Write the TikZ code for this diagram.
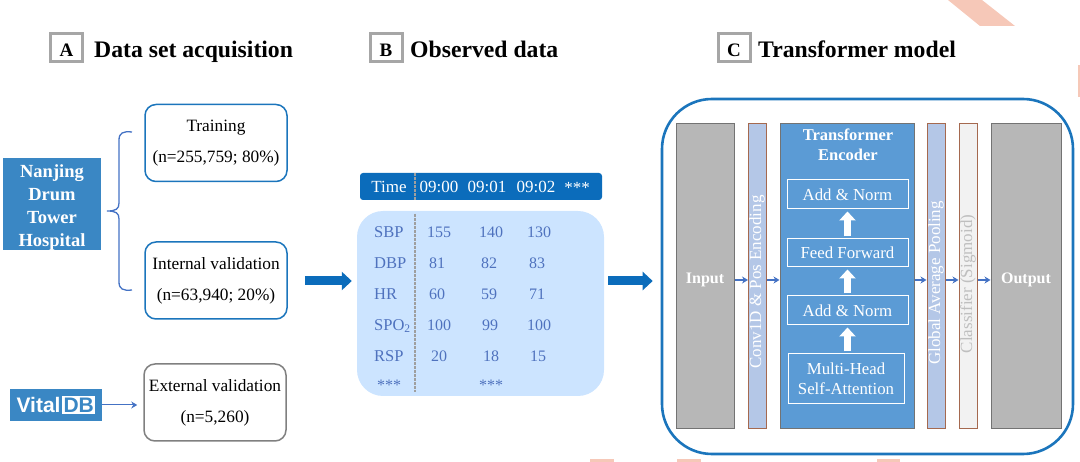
\documentclass[tikz,border=0pt]{standalone}
\usepackage{fontspec}
\setmainfont{Liberation Serif}
\newfontfamily\logofont{Liberation Sans}
\usetikzlibrary{arrows.meta}
\definecolor{hospblue}{HTML}{3A87C4}
\definecolor{deepblue}{HTML}{0B6CBB}
\definecolor{ringblue}{HTML}{1B75BC}
\definecolor{paleblue}{HTML}{CCE4FF}
\definecolor{linkblue}{HTML}{4472C4}
\definecolor{cellblue}{HTML}{4F72BE}
\definecolor{encblue}{HTML}{5B9BD5}
\definecolor{layerblue}{HTML}{B4C7E7}
\definecolor{layerbrown}{HTML}{A5694F}
\definecolor{iogray}{HTML}{B7B7B7}
\definecolor{salmon}{HTML}{F6C8B8}
\tikzset{
  letterbox/.style={draw=gray!70,line width=3pt,minimum width=32pt,minimum height=28pt,inner sep=0pt,font=\fontsize{19}{22}\selectfont\bfseries},
  headtitle/.style={anchor=base west,inner sep=0pt,font=\fontsize{23.7}{26}\selectfont\bfseries},
  splitbox/.style={draw=ringblue,line width=1.5pt,rounded corners=11pt,minimum width=142pt,minimum height=77pt,inner sep=0pt,align=center,font=\fontsize{17.3}{31}\selectfont},
  cellname/.style={anchor=west,inner sep=0pt,text=cellblue,font=\fontsize{16.5}{18}\selectfont},
  cellval/.style={inner sep=0pt,text=cellblue,font=\fontsize{16}{18}\selectfont},
  timeval/.style={inner sep=0pt,text=white,font=\fontsize{17}{18}\selectfont},
  iobox/.style={draw=gray!90!black,fill=iogray,line width=1pt,minimum height=305pt,inner sep=0pt,text=white,font=\fontsize{16}{18}\selectfont\bfseries},
  layerbox/.style={draw=layerbrown,fill=layerblue,line width=1pt,minimum width=18pt,minimum height=305pt,inner sep=0pt},
  sidetext/.style={rotate=90,inner sep=0pt,text=white,font=\fontsize{17}{20}\selectfont},
  encbox/.style={draw=white,line width=1pt,inner sep=0pt,align=center,text=white,font=\fontsize{16.8}{20.5}\selectfont},
  bigarrow/.style={draw=deepblue,line width=9pt,-{Triangle[length=10pt,width=18pt]}},
  whitearrow/.style={draw=white,line width=7.5pt,shorten >=2pt,shorten <=2pt,-{Triangle[length=9pt,width=16pt]}},
  linkarrow/.style={draw=linkblue,line width=1.4pt,-{Stealth[length=6pt,width=7pt]}},
  divline/.style={draw=gray!75,line width=1.2pt,dashed,dash pattern=on 3pt off 1pt},
}
\begin{document}
\begin{tikzpicture}[x=1pt,y=-1pt]
  \useasboundingbox (0,0) rectangle (1080,462);

  % marks on the page edge
  \fill[salmon] (948,0) -- (982,0) -- (1015,26) -- (980,26) -- cycle;
  \fill[salmon] (1078,65) rectangle (1080,97);
  \fill[salmon] (590,459) rectangle (614,462);
  \fill[salmon] (677,459) rectangle (701,462);
  \fill[salmon] (877,459) rectangle (900,462);

  % headings
  \node[letterbox] (boxa) at (66.5,48) {\rule{0pt}{18pt}A};
  \node[headtitle] (titlea) at (94,58) {Data set acquisition};
  \node[letterbox] (boxb) at (386,48) {\rule{0pt}{18pt}B};
  \node[headtitle] (titleb) at (410,58) {Observed data};
  \node[letterbox] (boxc) at (734,48) {\rule{0pt}{18pt}C};
  \node[headtitle] (titlec) at (758,58) {Transformer model};

  % data sources and splits
  \node[fill=hospblue,minimum width=98pt,minimum height=92pt,inner sep=0pt,align=center,text=white,
    font=\fontsize{18.5}{23}\selectfont\bfseries] (hospital) at (52,204) {\rule{0pt}{19pt}Nanjing\\Drum\\Tower\\Hospital};
  \node[fill=hospblue,minimum width=92pt,minimum height=32pt,inner sep=0pt,text=white,
    font=\logofont\fontsize{21}{24}\selectfont\bfseries] (vitaldb) at (56,405)
    {Vital\hspace{1.5pt}{\setlength{\fboxsep}{1.5pt}\colorbox{white}{\textcolor{hospblue}{DB}}}};
  \node[splitbox] (training) at (216,143) {Training\\(n=255,759; 80\%)};
  \node[splitbox] (internal) at (216,280.5) {Internal validation\\(n=63,940; 20\%)};
  \node[splitbox,draw=gray] (external) at (215,402.5) {External validation\\(n=5,260)};
  \draw[linkblue,line width=1.3pt] (132,132) .. controls (123,131) and (119,133) .. (119,140) -- (119,203)
    .. controls (119,209) and (116,211) .. (107,211) .. controls (116,211) and (119,213) .. (119,219) -- (119,282)
    .. controls (119,289) and (123,291) .. (132,290);
  \draw[linkarrow,line width=1pt,shorten >=6pt] (vitaldb.east) -- (vitaldb.east -| external.west);

  % observed data
  \node[fill=deepblue,rounded corners=3pt,minimum width=242pt,minimum height=27pt,inner sep=0pt] (timebar) at (481,186.5) {};
  \node[fill=paleblue,rounded corners=26pt,minimum width=247pt,minimum height=185pt,inner sep=0pt] (panel) at (480.5,303.5) {};
  \draw[divline] (415,173) -- (415,200);
  \draw[divline] (415,214) -- (415,392);
  \node[timeval] (timelab) at (389,187) {Time};
  \node[timeval] (timea) at (439,187) {09:00};
  \node[timeval] (timeb) at (487,187) {09:01};
  \node[timeval] (timec) at (536,187) {09:02};
  \node[timeval] (timed) at (577,188) {***};
  \node[cellname] (sbp) at (374,232) {SBP};
  \node[cellval] (sbpa) at (439,232) {155};
  \node[cellval] (sbpb) at (491,232) {140};
  \node[cellval] (sbpc) at (539,232) {130};
  \node[cellname] (dbp) at (374,263) {DBP};
  \node[cellval] (dbpa) at (437,263) {81};
  \node[cellval] (dbpb) at (489,263) {82};
  \node[cellval] (dbpc) at (537,263) {83};
  \node[cellname] (hr) at (374,294) {HR};
  \node[cellval] (hra) at (437,294) {60};
  \node[cellval] (hrb) at (489,294) {59};
  \node[cellval] (hrc) at (537,294) {71};
  \node[cellname] (spo) at (374,326) {SPO\textsubscript{2}};
  \node[cellval] (spoa) at (439,325) {100};
  \node[cellval] (spob) at (490,325) {99};
  \node[cellval] (spoc) at (539,325) {100};
  \node[cellname] (rsp) at (374,356) {RSP};
  \node[cellval] (rspa) at (439,356) {20};
  \node[cellval] (rspb) at (491,356) {18};
  \node[cellval] (rspc) at (538,356) {15};
  \node[cellval] (morea) at (389,385) {***};
  \node[cellval] (moreb) at (491,385) {***};

  % transformer model
  \node[draw=ringblue,line width=2.6pt,rounded corners=50pt,minimum width=411pt,minimum height=355pt,inner sep=0pt] (ring) at (867.5,276.5) {};
  \node[iobox,minimum width=58pt] (input) at (705,276.5) {\rule{0pt}{17pt}Input};
  \node[layerbox] (conv) at (757.5,276.5) {};
  \node[draw=black!55,fill=encblue,line width=1pt,minimum width=134pt,minimum height=305pt,inner sep=0pt] (encoder) at (847,276.5) {};
  \node[layerbox] (pool) at (936,276.5) {};
  \node[layerbox,fill=gray!10] (classifier) at (968,276.5) {};
  \node[iobox,minimum width=70pt] (output) at (1026,276.5) {\rule{0pt}{17pt}Output};
  \node[sidetext] (convtext) at (757,282) {Conv1D \& Pos Encoding};
  \node[sidetext] (pooltext) at (936,283) {Global Average Pooling};
  \node[sidetext,text=gray!50] (classtext) at (968,284) {Classifier (Sigmoid)};
  \node[inner sep=0pt,align=center,text=white,font=\fontsize{16.5}{20}\selectfont\bfseries] (enctitle) at (848,145) {Transformer\\Encoder};
  \node[encbox,minimum width=121pt,minimum height=29pt] (addt) at (847.5,194.5) {Add \& Norm};
  \node[encbox,minimum width=121pt,minimum height=28pt] (ffwd) at (847.5,253) {Feed Forward};
  \node[encbox,minimum width=121pt,minimum height=29pt] (addb) at (847.5,310.5) {Add \& Norm};
  \node[encbox,minimum width=116pt,minimum height=50pt] (multi) at (846,379) {Multi-Head\\Self-Attention};
  \draw[whitearrow] (addb.south |- multi.north) -- (addb.south);
  \draw[whitearrow] (addb.north) -- (ffwd.south);
  \draw[whitearrow] (ffwd.north) -- (addt.south);

  % arrows between the stages
  \coordinate (midrow) at (0,280);
  \draw[linkarrow] (input.east |- midrow) -- (conv.west |- midrow);
  \draw[linkarrow] (conv.east |- midrow) -- (encoder.west |- midrow);
  \draw[linkarrow] (encoder.east |- midrow) -- (pool.west |- midrow);
  \draw[linkarrow] (pool.east |- midrow) -- (classifier.west |- midrow);
  \draw[linkarrow] (classifier.east |- midrow) -- (output.west |- midrow);
  \coordinate (bigrow) at (0,281);
  \draw[bigarrow] ([xshift=17pt]internal.east |- bigrow) -- ([xshift=-5pt]panel.west |- bigrow);
  \draw[bigarrow] ([xshift=4pt]panel.east |- bigrow) -- ([xshift=-8pt]ring.west |- bigrow);
\end{tikzpicture}
\end{document}
